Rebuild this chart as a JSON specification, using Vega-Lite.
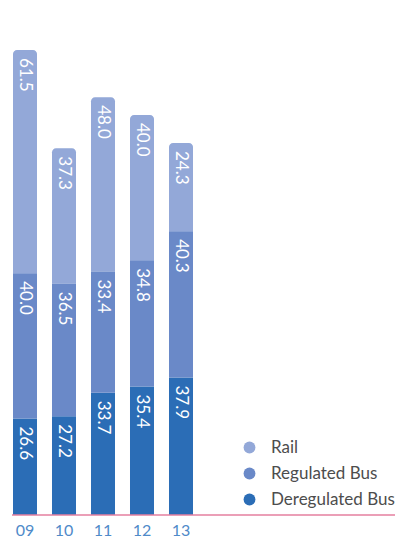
{
  "$schema": "https://vega.github.io/schema/vega-lite/v6.json",
  "width": 383,
  "height": 465,
  "autosize": {"type": "none"},
  "padding": {"left": 12, "top": 50, "right": 0, "bottom": 26},
  "background": "white",
  "config": {"view": {"stroke": null}, "font": "Lato"},
  "layer": [
    {
      "data": {
        "values": [
          {"year": "09", "series": "Deregulated Bus", "k": 1, "value": 26.6},
          {"year": "09", "series": "Regulated Bus", "k": 2, "value": 40.0},
          {"year": "09", "series": "Rail", "k": 3, "value": 61.5},
          {"year": "10", "series": "Deregulated Bus", "k": 1, "value": 27.2},
          {"year": "10", "series": "Regulated Bus", "k": 2, "value": 36.5},
          {"year": "10", "series": "Rail", "k": 3, "value": 37.3},
          {"year": "11", "series": "Deregulated Bus", "k": 1, "value": 33.7},
          {"year": "11", "series": "Regulated Bus", "k": 2, "value": 33.4},
          {"year": "11", "series": "Rail", "k": 3, "value": 48.0},
          {"year": "12", "series": "Deregulated Bus", "k": 1, "value": 35.4},
          {"year": "12", "series": "Regulated Bus", "k": 2, "value": 34.8},
          {"year": "12", "series": "Rail", "k": 3, "value": 40.0},
          {"year": "13", "series": "Deregulated Bus", "k": 1, "value": 37.9},
          {"year": "13", "series": "Regulated Bus", "k": 2, "value": 40.3},
          {"year": "13", "series": "Rail", "k": 3, "value": 24.3}
        ]
      },
      "transform": [
        {"stack": "value", "groupby": ["year"], "sort": [{"field": "k", "order": "ascending"}], "as": ["y0", "y1"]}
      ],
      "layer": [
        {
          "transform": [{"filter": "datum.k == 3"}],
          "mark": {"type": "bar", "cornerRadiusTopLeft": 4, "cornerRadiusTopRight": 4},
          "encoding": {
            "x": {"field": "year", "type": "ordinal", "scale": {"range": [1, 181], "paddingInner": 0.3846, "paddingOuter": 0},
              "axis": {"title": null, "domain": false, "ticks": false, "labelAngle": 0, "labelColor": "#4f8ac9", "labelFontSize": 16, "labelPadding": 7}},
            "y": {"field": "y1", "type": "quantitative", "scale": {"domain": [0, 128.1], "nice": false, "zero": true}, "axis": null},
            "y2": {"field": "y0"},
            "color": {"field": "series", "type": "nominal",
              "scale": {"domain": ["Rail", "Regulated Bus", "Deregulated Bus"], "range": ["#93a8d8", "#6a89c8", "#2b6db6"]},
              "legend": {"title": null, "orient": "none", "legendX": 229, "legendY": 389, "symbolType": "circle", "symbolSize": 140, "symbolStrokeWidth": 0, "symbolOpacity": 1, "labelFontSize": 17, "labelColor": "#4d4d4d", "labelOffset": 13, "rowPadding": 8, "padding": 0}}
          }
        },
        {
          "transform": [{"filter": "datum.k < 3"}],
          "mark": {"type": "bar"},
          "encoding": {
            "x": {"field": "year", "type": "ordinal"},
            "y": {"field": "y1", "type": "quantitative"},
            "y2": {"field": "y0"},
            "color": {"field": "series", "type": "nominal"}
          }
        },
        {
          "mark": {"type": "text", "angle": 90, "align": "left", "baseline": "middle", "dx": 8, "color": "white", "fontSize": 17},
          "encoding": {
            "x": {"field": "year", "type": "ordinal"},
            "y": {"field": "y1", "type": "quantitative"},
            "text": {"field": "value", "type": "quantitative", "format": ".1f"}
          }
        }
      ]
    },
    {
      "data": {"values": [{}]},
      "mark": {"type": "rule", "color": "#e57f9f", "strokeWidth": 1.5},
      "encoding": {"y": {"datum": 0, "type": "quantitative"}}
    }
  ]
}
